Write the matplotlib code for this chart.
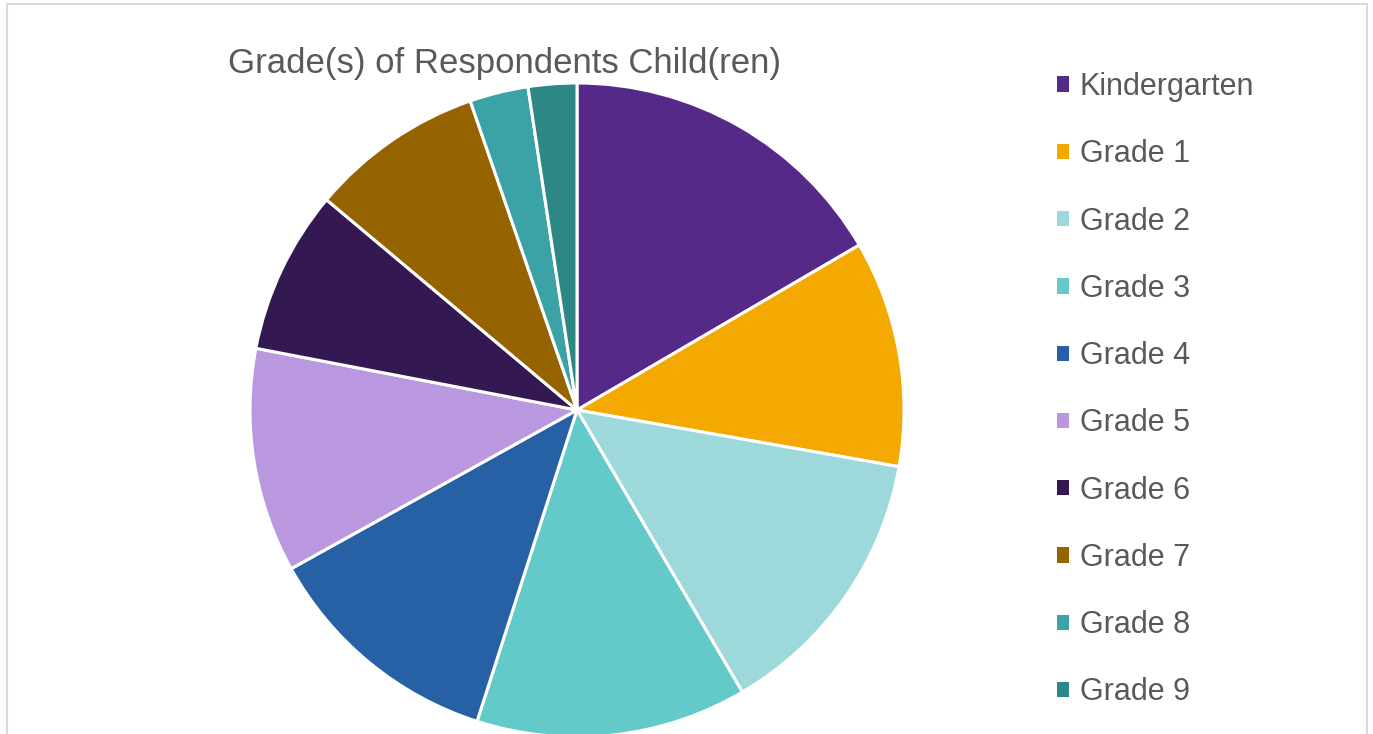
import matplotlib
matplotlib.use("Agg")
import matplotlib.pyplot as plt
from matplotlib.patches import Rectangle

grades = ["Kindergarten", "Grade 1", "Grade 2", "Grade 3", "Grade 4",
          "Grade 5", "Grade 6", "Grade 7", "Grade 8", "Grade 9"]
shares = [16.6, 11.2, 13.8, 13.4, 12.0, 11.1, 8.1, 8.6, 2.9, 2.4]
colors = ["#552988", "#F3A900", "#9DD9DA", "#63CAC9", "#2661A5",
          "#B998DF", "#331851", "#956300", "#3BA3A5", "#2D8785"]
title = "Grade(s) of Respondents Child(ren)"

plt.rcParams["font.family"] = ["Liberation Sans", "DejaVu Sans"]

W, H = 1373, 734
fig = plt.figure(figsize=(W / 100, H / 100), dpi=100)

# light gray frame around the chart area (bottom edge is cut off)
fig.patches.append(Rectangle((7 / W, -0.05), 1360 / W, (H - 4) / H + 0.05,
                             transform=fig.transFigure, fill=False,
                             edgecolor="#D9D9D9", linewidth=1.5))

cx, cy, r = 577, 410, 327
ax = fig.add_axes([(cx - r) / W, (H - cy - r) / H, 2 * r / W, 2 * r / H])
wedges, _ = ax.pie(shares, colors=colors, startangle=90, counterclock=False,
                   wedgeprops=dict(edgecolor="white", linewidth=2.2))
ax.set_xlim(-1, 1)
ax.set_ylim(-1, 1)
ax.set_aspect("auto")
ax.axis("off")
for w in wedges:
    w.set_clip_on(False)

fig.text(504 / W, 1 - 63 / H, title, ha="center", va="center",
         fontsize=25, color="#595959")

leg = fig.legend(wedges, grades, loc="upper left",
                 bbox_to_anchor=(1057 / W, 1 - 72 / H),
                 frameon=False, fontsize=22, labelcolor="#595959",
                 handlelength=0.39, handleheight=0.39, handletextpad=0.36,
                 labelspacing=1.22, borderaxespad=0, borderpad=0)
for h in leg.legend_handles:
    h.set_edgecolor("none")

fig.savefig("out.png", dpi=100, facecolor="white")
